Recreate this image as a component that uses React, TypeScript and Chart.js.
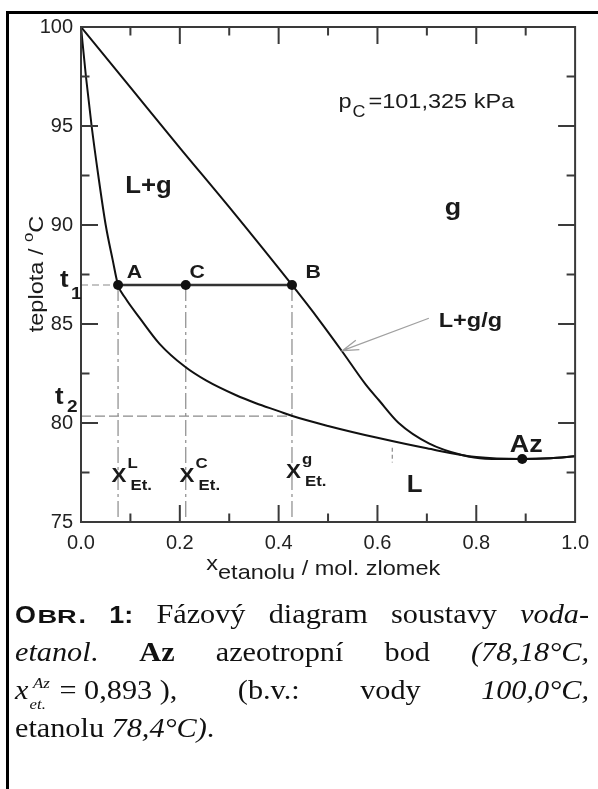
import React, { useEffect, useRef } from 'react';
import { Chart, registerables } from 'chart.js';
Chart.register(...registerables);

// ---- data ----
const liquidX = [0, 0.010, 0.0215, 0.035, 0.050, 0.064, 0.075, 0.09, 0.119, 0.159, 0.21, 0.253, 0.314, 0.354, 0.40, 0.428, 0.50, 0.60, 0.70, 0.80, 0.893, 0.95, 1.0];
const liquidT = [100, 97.5, 95, 92.5, 90, 88.25, 86.97, 86.3, 85.3, 84.0, 82.85, 82.15, 81.4, 81.0, 80.6, 80.35, 79.85, 79.25, 78.72, 78.28, 78.18, 78.22, 78.32];
const vaporX = [0, 0.1, 0.2, 0.3, 0.427, 0.482, 0.529, 0.576, 0.603, 0.643, 0.704, 0.771, 0.818, 0.893, 0.95, 1.0];
const vaporT = [100, 96.95, 93.9, 90.9, 86.97, 85.2, 83.6, 81.95, 81.15, 80.0, 78.97, 78.38, 78.2, 78.18, 78.22, 78.32];
const pointNames = ['A', 'C', 'B', 'Az'];
const pointX = [0.075, 0.212, 0.427, 0.893];
const pointT = [86.97, 86.97, 86.97, 78.18];
const t1 = 86.97;
const t2 = 80.35;
const markX = 0.63;
const markT = [78.75, 78.0];
const xTicks = [0, 0.2, 0.4, 0.6, 0.8, 1.0];
const yTicks = [75, 80, 85, 90, 95, 100];
const xMinor = 0.1;
const yMinor = 2.5;

const SX = 1.12;
const SANS = '"Liberation Sans", Arial, Helvetica, sans-serif';
const INK = '#1a1a1a';

function txt(ctx: CanvasRenderingContext2D, s: string, x: number, y: number, size: number, bold: boolean, align: CanvasTextAlign = 'left') {
  ctx.save();
  ctx.font = `${bold ? 'bold ' : ''}${size}px ${SANS}`;
  ctx.fillStyle = INK;
  ctx.textAlign = align;
  ctx.textBaseline = 'alphabetic';
  const w = ctx.measureText(s).width * SX;
  ctx.translate(x, y);
  ctx.scale(SX, 1);
  ctx.fillText(s, 0, 0);
  ctx.restore();
  return w;
}

const annotPlugin = {
  id: 'annot',
  afterDraw(chart: any) {
    const { ctx, chartArea, scales } = chart;
    const { left, right, top, bottom } = chartArea;
    const X = (v: number) => scales.x.getPixelForValue(v);
    const Y = (v: number) => scales.y.getPixelForValue(v);
    ctx.save();
    // frame and inward ticks
    ctx.strokeStyle = '#3a3a3a';
    ctx.lineWidth = 2;
    ctx.strokeRect(left, top, right - left, bottom - top);
    ctx.beginPath();
    const xmin = xTicks[0], xmax = xTicks[xTicks.length - 1];
    for (let v = xmin + xMinor; v < xmax - 1e-9; v += xMinor) {
      const major = xTicks.some(t => Math.abs(t - v) < 1e-6);
      const len = major ? 17 : 8.5;
      const p = X(v);
      ctx.moveTo(p, bottom); ctx.lineTo(p, bottom - len);
      ctx.moveTo(p, top); ctx.lineTo(p, top + len);
    }
    const ymin = yTicks[0], ymax = yTicks[yTicks.length - 1];
    for (let v = ymin + yMinor; v < ymax - 1e-9; v += yMinor) {
      const major = yTicks.some(t => Math.abs(t - v) < 1e-6);
      const len = major ? 17 : 8.5;
      const p = Y(v);
      ctx.moveTo(left, p); ctx.lineTo(left + len, p);
      ctx.moveTo(right, p); ctx.lineTo(right - len, p);
    }
    ctx.stroke();

    // arrow L+g/g
    const ax0 = X(0.704), ay0 = Y(85.29), ax1 = X(0.529), ay1 = Y(83.65);
    ctx.strokeStyle = '#a0a0a0';
    ctx.lineWidth = 1.3;
    ctx.beginPath();
    ctx.moveTo(ax0, ay0); ctx.lineTo(ax1, ay1);
    const ang = Math.atan2(ay0 - ay1, ax0 - ax1);
    ctx.moveTo(ax1 + 17 * Math.cos(ang - 0.3), ay1 + 17 * Math.sin(ang - 0.3));
    ctx.lineTo(ax1, ay1);
    ctx.lineTo(ax1 + 17 * Math.cos(ang + 0.3), ay1 + 17 * Math.sin(ang + 0.3));
    ctx.stroke();
    ctx.restore();

    // region labels
    txt(ctx, 'L+g', X(0.1365), Y(91.6), 23, true, 'center');
    txt(ctx, 'g', X(0.753), Y(90.5), 24, true, 'center');
    txt(ctx, 'L+g/g', X(0.724), Y(84.86), 21, true);
    txt(ctx, 'L', X(0.675), Y(76.52), 23, true, 'center');
    // pressure
    let px = X(0.521);
    const pb = Y(95.89);
    px += txt(ctx, 'p', px, pb, 21, false);
    px += txt(ctx, 'C', px + 1, pb + 9, 16, false) + 4;
    txt(ctx, '=101,325 kPa', px, pb, 21, false);
    // point labels
    const lblY = Y(87.32);
    txt(ctx, pointNames[0], X(0.108), lblY, 19, true, 'center');
    txt(ctx, pointNames[1], X(0.235), lblY, 19, true, 'center');
    txt(ctx, pointNames[2], X(0.470), lblY, 19, true, 'center');
    txt(ctx, pointNames[3], X(0.901), Y(78.54), 24, true, 'center');
    // X^?_Et. labels
    const xl = [
      { x: 0.0617, y: 77.02, s: 'L' },
      { x: 0.1996, y: 77.02, s: 'C' },
      { x: 0.415, y: 77.22, s: 'g' },
    ];
    xl.forEach(o => {
      const bx = X(o.x), by = Y(o.y);
      txt(ctx, 'X', bx, by, 20, true);
      txt(ctx, o.s, bx + 16, by - 14, 15, true);
      txt(ctx, 'Et.', bx + 19, by + 8, 15, true);
    });
    // t1, t2
    txt(ctx, 't', left - 21, Y(t1) + 2, 23, true);
    txt(ctx, '1', left - 10, Y(t1) + 14, 17, true);
    txt(ctx, 't', left - 26, Y(t2) - 12, 23, true);
    txt(ctx, '2', left - 14, Y(t2) - 4, 17, true);

    // x-axis title
    let tx = X(0.2535);
    tx += txt(ctx, 'x', tx, bottom + 48, 21, false);
    tx += txt(ctx, 'etanolu ', tx, bottom + 57, 21, false);
    txt(ctx, '/ mol. zlomek', tx, bottom + 53, 21, false);

    // y-axis title (rotated)
    ctx.save();
    ctx.translate(43, 274);
    ctx.rotate(-Math.PI / 2);
    ctx.scale(SX, 1);
    ctx.fillStyle = INK;
    ctx.textBaseline = 'alphabetic';
    ctx.font = `21px ${SANS}`;
    const w1 = ctx.measureText('teplota / ').width;
    const w3 = ctx.measureText('C').width;
    ctx.font = `15px ${SANS}`;
    const w2 = ctx.measureText('o').width;
    let sx = -(w1 + w2 + w3) / 2;
    ctx.font = `21px ${SANS}`;
    ctx.fillText('teplota / ', sx, 0);
    sx += w1;
    ctx.font = `15px ${SANS}`;
    ctx.fillText('o', sx, -10);
    sx += w2;
    ctx.font = `21px ${SANS}`;
    ctx.fillText('C', sx, 0);
    ctx.restore();
  },
};

function pts(xs: number[], ys: number[]) {
  return xs.map((x, i) => ({ x, y: ys[i] }));
}

function seg(data: { x: number; y: number }[], color: string, width: number, dash: number[] = [], extra: any = {}) {
  return {
    data,
    showLine: true,
    borderColor: color,
    borderWidth: width,
    borderDash: dash,
    pointRadius: 0,
    fill: false,
    tension: 0,
    ...extra,
  };
}

export default function App() {
  const ref = useRef<HTMLCanvasElement>(null);
  useEffect(() => {
    if (!ref.current) return;
    const A = pointX[0], C = pointX[1], B = pointX[2];
    const dashV = [16, 4, 3, 4];
    const chart = new Chart(ref.current, {
      type: 'scatter',
      data: {
        datasets: [
          {
            data: pts(pointX, pointT),
            pointRadius: 5,
            pointBackgroundColor: '#111',
            pointBorderWidth: 0,
            showLine: false,
          } as any,
          seg([{ x: A, y: t1 }, { x: B, y: t1 }], '#333', 2.5),
          seg(pts(liquidX, liquidT), '#111', 2, [], { cubicInterpolationMode: 'monotone' }),
          seg(pts(vaporX, vaporT), '#111', 2, [], { cubicInterpolationMode: 'monotone' }),
          seg([{ x: 0, y: t1 }, { x: A, y: t1 }], '#8a8a8a', 1.2, [7, 4]),
          seg([{ x: 0, y: t2 }, { x: 0.428, y: t2 }], '#8a8a8a', 1.2, [10, 4]),
          seg([{ x: A, y: t1 }, { x: A, y: 75 }], '#8a8a8a', 1.2, dashV),
          seg([{ x: C, y: t1 }, { x: C, y: 75 }], '#8a8a8a', 1.2, dashV),
          seg([{ x: B, y: t1 }, { x: B, y: 75 }], '#8a8a8a', 1.2, dashV),
          seg([{ x: markX, y: markT[0] }, { x: markX, y: markT[1] }], '#8a8a8a', 1.2, [4, 3]),
        ],
      },
      options: {
        responsive: false,
        animation: false,
        events: [],
        layout: { padding: { left: 0, top: 27, right: 21, bottom: 0 } },
        plugins: { legend: { display: false }, tooltip: { enabled: false }, title: { display: false } },
        scales: {
          x: {
            type: 'linear',
            min: xTicks[0],
            max: xTicks[xTicks.length - 1],
            afterFit: (s: any) => { s.height = 78; },
            afterBuildTicks: (s: any) => { s.ticks = xTicks.map(v => ({ value: v })); },
            ticks: {
              callback: (v: any) => Number(v).toFixed(1),
              font: { family: SANS, size: 20 },
              color: '#222',
              padding: 9,
              maxRotation: 0,
              autoSkip: false,
            },
            grid: { display: false, drawTicks: false },
            border: { display: false },
          },
          y: {
            type: 'linear',
            min: yTicks[0],
            max: yTicks[yTicks.length - 1],
            afterFit: (s: any) => { s.width = 81; },
            afterBuildTicks: (s: any) => { s.ticks = yTicks.map(v => ({ value: v })); },
            ticks: {
              font: { family: SANS, size: 20 },
              color: '#222',
              padding: 8,
              autoSkip: false,
            },
            grid: { display: false, drawTicks: false },
            border: { display: false },
          },
        },
      },
      plugins: [annotPlugin],
    } as any);
    return () => chart.destroy();
  }, []);

  const lineStyle: React.CSSProperties = { height: 38, textAlign: 'justify', textAlignLast: 'justify' as any };
  const boldSans: React.CSSProperties = { fontFamily: SANS, fontWeight: 'bold', fontSize: 24 };
  return (
    <>
      <div style={{ position: 'absolute', left: 6, top: 11, width: 592, height: 778, borderLeft: '3px solid #000', borderTop: '3px solid #000', boxSizing: 'border-box' }} />
      <canvas ref={ref} width={598} height={600} style={{ position: 'absolute', left: 0, top: 0, width: 598, height: 600 }} />
      <div
        style={{
          position: 'absolute', left: 15, top: 595, width: 512.5,
          transform: `scaleX(${SX})`, transformOrigin: '0 0',
          fontFamily: '"Liberation Serif", "Times New Roman", serif', fontSize: 27, lineHeight: '38px', color: '#111',
        }}
      >
        <div style={lineStyle}>
          <span style={boldSans}>O<span style={{ display: 'inline-block', width: 37, transform: 'scaleX(1.35)', transformOrigin: '0 0', fontSize: 18, marginLeft: 1 }}>BR</span>.</span>{' '}
          <span style={boldSans}>1:</span> Fázový diagram soustavy <i>voda-</i>
        </div>
        <div style={lineStyle}>
          <i>etanol</i>. <b>Az</b> azeotropní bod <i>(78,18°C,</i>
        </div>
        <div style={lineStyle}>
          <span style={{ display: 'inline-block', whiteSpace: 'nowrap' }}>
            <i>x</i>
            <span style={{ display: 'inline-block', position: 'relative', width: 21, height: 0 }}>
              <i style={{ position: 'absolute', left: 4, bottom: 8, fontSize: 15, lineHeight: '15px' }}>Az</i>
              <i style={{ position: 'absolute', left: 1, bottom: -13, fontSize: 15, lineHeight: '15px' }}>et.</i>
            </span>
            {' = 0,893 ),'}
          </span>{' '}
          (b.v.: vody <i>100,0°C,</i>
        </div>
        <div style={{ height: 38, whiteSpace: 'nowrap' }}>
          etanolu <i>78,4°C)</i>.
        </div>
      </div>
    </>
  );
}
